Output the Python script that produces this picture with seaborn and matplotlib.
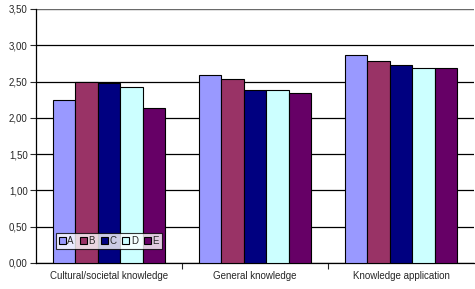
import pandas as pd
import matplotlib.pyplot as plt
import seaborn as sns
from matplotlib.ticker import FuncFormatter, FixedLocator

# Data
categories = ['Cultural/societal knowledge', 'General knowledge', 'Knowledge application']
groups = ['A', 'B', 'C', 'D', 'E']
values_a = [2.25, 2.59, 2.87]
values_b = [2.49, 2.53, 2.78]
values_c = [2.48, 2.38, 2.73]
values_d = [2.42, 2.38, 2.69]
values_e = [2.13, 2.34, 2.68]
colors = ['#9999FF', '#993366', '#000080', '#CCFFFF', '#660066']

rows = []
for g, vals in zip(groups, [values_a, values_b, values_c, values_d, values_e]):
    for c, v in zip(categories, vals):
        rows.append({'category': c, 'group': g, 'value': v})
df = pd.DataFrame(rows)

sns.set_style('white')
plt.rcParams['font.family'] = ['Liberation Sans', 'DejaVu Sans']

fig = plt.figure(figsize=(4.75, 2.89), dpi=100)
ax = fig.add_axes([0.076, 0.09, 0.922, 0.879])

sns.barplot(data=df, x='category', y='value', hue='group', palette=colors,
            saturation=1, width=0.77, edgecolor='black', linewidth=0.8,
            ax=ax, zorder=3)

ax.set_ylim(0, 3.5)
ax.set_xlim(-0.5, 2.5)
ax.set_yticks([i * 0.5 for i in range(8)])
ax.yaxis.set_major_formatter(FuncFormatter(lambda v, p: f'{v:.2f}'.replace('.', ',')))
ax.yaxis.grid(True, color='black', linewidth=0.9, zorder=0)
ax.set_axisbelow(True)
ax.set_xlabel('')
ax.set_ylabel('')

ax.tick_params(axis='y', which='major', direction='out', length=4, width=0.8,
               labelsize=7, left=True, pad=2)
ax.tick_params(axis='x', which='major', length=0, labelsize=7, pad=6)
ax.xaxis.set_minor_locator(FixedLocator([0.5, 1.5]))
ax.tick_params(axis='x', which='minor', direction='out', length=4, width=0.8, bottom=True)

for s in ['top', 'right']:
    ax.spines[s].set_visible(False)
ax.spines['left'].set_color('black')
ax.spines['bottom'].set_color('black')
ax.spines['left'].set_linewidth(0.9)
ax.spines['bottom'].set_linewidth(0.9)
ax.axhline(3.5, color='#808080', linewidth=1.2, zorder=1)

leg = ax.legend(loc='lower left', bbox_to_anchor=(0.045, 0.055), ncol=5, fontsize=7,
                frameon=True, fancybox=False, edgecolor='black', handlelength=0.7,
                handleheight=0.7, handletextpad=0.2, columnspacing=0.6,
                borderpad=0.3, borderaxespad=0)
leg.get_frame().set_linewidth(0.8)
leg.set_zorder(5)

fig.savefig('out.png', dpi=100)
